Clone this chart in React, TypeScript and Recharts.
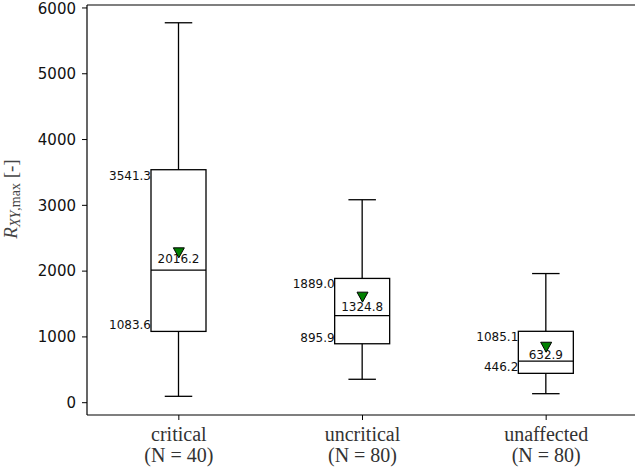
import { Bar, ComposedChart, ReferenceLine, Scatter, XAxis, YAxis } from "recharts";

const categories = ["critical", "uncritical", "unaffected"];
const counts = [40, 80, 80];
const whiskerLow = [97, 356, 137];
const q1 = [1083.6, 895.9, 446.2];
const median = [2016.2, 1324.8, 632.9];
const q3 = [3541.3, 1889.0, 1085.1];
const whiskerHigh = [5775, 3085, 1963];
const means = [2278, 1604, 843];
const yTicks = [0, 1000, 2000, 3000, 4000, 5000, 6000];

const Y_MIN = -187;
const Y_MAX = 6045;

const data = categories.map((name, i) => ({
  name,
  n: counts[i],
  range: [whiskerLow[i], whiskerHigh[i]],
  low: whiskerLow[i],
  q1: q1[i],
  median: median[i],
  q3: q3[i],
  high: whiskerHigh[i],
  mean: means[i],
}));

const numFont = "DejaVu Sans";
const serif = "Liberation Serif";

function BoxShape(props: any) {
  const { x, y, width, height, payload } = props;
  const { low, high } = payload;
  // map values through the bar's own pixel span (whisker low .. whisker high)
  const toPx = (v: number) => y + (height * (high - v)) / (high - low);
  const cx = x + width / 2;
  const left = x;
  const right = x + width;
  const capHalf = width / 4;
  const yQ1 = toPx(payload.q1);
  const yQ3 = toPx(payload.q3);
  const yMed = toPx(payload.median);
  const yMedLabel = toPx(payload.median * 1.05);
  const yLow = toPx(low);
  const yHigh = toPx(high);
  const s = { stroke: "#000", strokeWidth: 1.3, fill: "none" };
  return (
    <g>
      <line x1={cx} x2={cx} y1={yHigh} y2={yQ3} {...s} />
      <line x1={cx} x2={cx} y1={yQ1} y2={yLow} {...s} />
      <line x1={cx - capHalf} x2={cx + capHalf} y1={yHigh} y2={yHigh} {...s} />
      <line x1={cx - capHalf} x2={cx + capHalf} y1={yLow} y2={yLow} {...s} />
      <rect x={left} y={yQ3} width={right - left} height={yQ1 - yQ3} {...s} />
      <line x1={left} x2={right} y1={yMed} y2={yMed} {...s} />
      <text x={left} y={yQ3 + 10} textAnchor="end" fontSize={12} fontFamily={numFont} fill="#111">
        {payload.q3.toFixed(1)}
      </text>
      <text x={left} y={yQ1 - 2} textAnchor="end" fontSize={12} fontFamily={numFont} fill="#111">
        {payload.q1.toFixed(1)}
      </text>
      <text x={cx} y={yMedLabel} textAnchor="middle" fontSize={12} fontFamily={numFont} fill="#111">
        {payload.median.toFixed(1)}
      </text>
    </g>
  );
}

function MeanMarker(props: any) {
  const { cx, cy } = props;
  return (
    <path
      d={`M${cx - 5.5},${cy - 5} L${cx + 5.5},${cy - 5} L${cx},${cy + 5} Z`}
      fill="#008000"
      stroke="#000"
      strokeWidth={1}
    />
  );
}

function CategoryTick(props: any) {
  const { x, y, payload, index } = props;
  return (
    <g>
      <text x={x} y={y + 19} textAnchor="middle" fontSize={20} fontFamily={serif} fill="#333">
        {payload.value}
      </text>
      <text x={x} y={y + 40} textAnchor="middle" fontSize={20} fontFamily={serif} fill="#333">
        {`(N = ${counts[index]})`}
      </text>
    </g>
  );
}

function YLabel() {
  const x = 17;
  const y = 199;
  return (
    <text
      x={x}
      y={y}
      transform={`rotate(-90, ${x}, ${y})`}
      textAnchor="middle"
      fontFamily={serif}
      fontSize={19}
      fill="#444"
    >
      <tspan fontStyle="italic">R</tspan>
      <tspan fontSize={14} dy={3} fontStyle="italic">XY</tspan>
      <tspan fontSize={14}>,max</tspan>
      <tspan dy={-3}> [-]</tspan>
    </text>
  );
}

export default function App() {
  return (
    <div style={{ position: "absolute", left: 0, top: 0, width: 635, height: 471, overflow: "hidden", background: "#fff" }}>
      <ComposedChart width={635} height={471} data={data} margin={{ top: 5, right: -3, bottom: 0, left: 0 }}>
        <XAxis
          dataKey="name"
          type="category"
          height={56}
          tick={<CategoryTick />}
          tickSize={5}
          axisLine={{ stroke: "#000", strokeWidth: 1.2 }}
          tickLine={{ stroke: "#000", strokeWidth: 1 }}
          interval={0}
        />
        <YAxis
          type="number"
          domain={[Y_MIN, Y_MAX]}
          ticks={yTicks}
          allowDataOverflow
          width={87}
          tickSize={5}
          tickMargin={6}
          tick={{ fill: "#111", fontSize: 15, fontFamily: numFont }}
          axisLine={{ stroke: "#000", strokeWidth: 1.2 }}
          tickLine={{ stroke: "#000", strokeWidth: 1 }}
          label={<YLabel />}
        />
        <ReferenceLine y={Y_MAX} stroke="#000" strokeWidth={1.2} ifOverflow="visible" />
        <Bar dataKey="range" barSize={55} shape={<BoxShape />} isAnimationActive={false} />
        <Scatter dataKey="mean" shape={<MeanMarker />} isAnimationActive={false} />
      </ComposedChart>
    </div>
  );
}
